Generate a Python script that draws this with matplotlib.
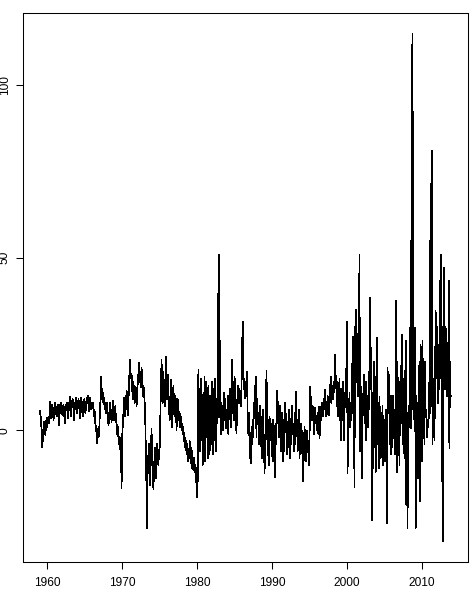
import numpy as np
import matplotlib
matplotlib.use("Agg")
import matplotlib.pyplot as plt


START_YEAR = 1959

# monthly values, one row per year
vals_1959_1968 = [
    5.5, 4.5, 3.0, -1.0, -5.0, -2.0, 1.0, 2.5, 0.5, -1.5, 2.0, 3.5,
    1.0, 3.0, 4.0, 2.0, 8.3, 6.0, 3.5, 5.5, 7.5, 6.0, 3.0, 5.0,
    7.0, 8.0, 5.5, 4.0, 6.5, 7.5, 5.0, 1.5, 5.5, 7.5, 8.0, 6.0,
    4.5, 6.5, 7.5, 5.0, 2.0, 5.5, 7.0, 8.0, 6.0, 3.5, 5.5, 7.0,
    9.8, 7.0, 4.0, 6.5, 8.5, 9.0, 6.0, 3.0, 6.5, 8.0, 9.5, 7.5,
    5.0, 7.0, 9.0, 8.0, 3.5, 6.0, 9.5, 8.5, 5.5, 4.0, 7.5, 9.0,
    8.0, 5.0, 6.5, 9.5, 8.0, 10.0, 7.0, 5.5, 8.5, 9.5, 6.0, 8.0,
    6.5, 8.0, 7.0, 4.0, 5.5, 2.0, 1.0, -1.5, -3.7, 0.5, -2.0, -1.0,
    4.0, 8.0, 15.6, 12.0, 9.0, 11.0, 7.5, 9.5, 6.0, 8.0, 5.0, 7.0,
    8.0, 4.0, 1.5, 3.0, 6.5, 8.0, 4.0, 2.5, 5.5, 8.5, 6.0, 3.0,
]
vals_1969_1978 = [
    4.5, 7.0, 3.0, 2.0, -1.0, 1.0, -2.5, -4.0, -2.0, -5.5, -4.5, -16.8,
    -2.0, 2.0, 5.0, 9.5, 6.0, 4.0, 8.0, 11.5, 10.0, 4.5, 9.0, 12.0,
    20.4, 18.0, 15.0, 16.5, 12.0, 9.0, 14.0, 11.0, 8.0, 12.5, 9.5, 7.0,
    11.0, 16.0, 13.5, 19.5, 17.0, 14.0, 12.5, 18.0, 15.0, 10.0, 13.0, 11.0,
    8.0, 3.0, -14.5, -3.0, -28.5, -8.0, -12.0, -4.0, -16.0, -10.0, -6.0, 0.5,
    -9.0, -13.0, -17.0, -11.0, -7.0, -5.0, -14.0, -8.0, -4.0, -9.0, -10.0, -6.0,
    -5.0, 3.0, 12.0, 20.4, 14.0, 8.0, 17.0, 11.0, 13.5, 7.0, 21.4, 15.0,
    9.0, 16.0, 12.0, 6.5, 3.0, 8.0, 14.5, 11.0, 1.0, 5.5, 13.0, 7.5,
    4.0, 10.0, 8.5, 0.0, 5.0, 9.0, 7.0, 3.0, 5.0, 1.0, 4.0, 0.0,
    2.0, -1.0, 1.0, -3.0, -2.0, -5.0, -3.0, -7.0, -4.0, -9.0, -6.0, -8.0,
]
vals_1979_1988 = [
    -3.0, -7.0, -5.0, -11.0, -6.0, -9.0, -11.6, -8.0, -12.0, -10.0, -15.0, -11.0,
    -19.5, -14.0, 17.5, 2.0, 12.0, -6.0, 15.0, -3.0, 9.0, -10.0, 11.0, -5.0,
    15.6, -9.0, 14.0, -2.0, 8.0, -8.0, 13.0, 1.0, -7.0, 10.0, -4.0, 6.0,
    14.0, -7.0, 12.0, -3.0, 7.0, 15.0, -6.0, 9.0, 2.0, 4.0, 40.0, 51.0,
    27.0, 5.0, -1.0, 8.0, 1.0, 7.0, 0.0, 11.0, 3.0, 9.0, 0.5, 6.0,
    2.0, 10.0, -1.0, 7.0, 4.0, 12.0, 1.0, 9.0, 20.4, 5.0, 14.0, 3.0,
    15.6, 11.0, 4.0, -0.8, 6.0, 13.0, 10.0, 8.0, 12.0, 9.0, 7.0, 10.5,
    23.3, 31.6, 17.0, 12.0, 15.0, 9.4, 14.0, 10.0, 17.0, 3.0, -1.0, 5.0,
    -5.0, -7.7, -9.6, 1.0, -4.0, 3.0, -2.0, 8.0, 4.0, 12.0, 15.6, -2.0,
    9.0, 5.0, 2.0, -4.0, -1.0, 7.0, 3.0, -6.0, -8.0, 6.0, 1.0, -3.0,
]
vals_1989_1998 = [
    -12.4, -5.0, -2.0, 17.2, 8.0, 3.0, -7.0, -10.0, 4.0, 1.0, -3.0, 2.0,
    -6.0, -9.0, 3.0, 0.0, -11.0, -13.5, 2.0, -4.0, 11.4, 8.0, 5.0, -2.0,
    3.0, 7.0, -6.0, -2.0, 5.0, 1.0, -9.0, -4.0, 6.0, 8.0, 4.0, -1.0,
    -7.0, -5.0, 2.0, 6.0, 3.0, -8.0, -3.0, 4.0, 7.0, -1.0, 2.0, -6.0,
    5.0, -4.0, 11.2, 1.0, 3.0, -6.0, -2.0, 6.0, -8.0, -4.0, 0.0, 2.0,
    -3.0, -10.0, -14.8, -5.0, 1.0, -2.0, -8.0, -9.0, 0.0, -3.0, -6.0, -10.0,
    -4.0, 12.6, 9.0, 6.0, 3.0, 7.0, 5.0, -1.0, 1.0, 6.5, 4.0, 2.0,
    0.0, 5.0, -1.0, 6.9, -2.3, 1.0, 3.0, 7.0, 8.0, 4.0, 5.0, 9.0,
    6.0, 11.7, 8.0, 4.0, 5.5, 10.0, 9.0, 4.5, 7.0, 12.0, 15.6, 8.0,
    10.0, 13.0, 9.0, 14.0, 11.0, 21.9, 15.0, 12.0, 7.0, 14.0, 4.0, 10.0,
]
vals_1999_2008 = [
    15.0, 3.0, 12.0, -3.0, 9.0, 6.0, 14.0, -2.8, 5.0, 11.0, 8.0, 18.0,
    31.6, -12.4, 8.0, 2.0, 11.0, 1.0, 6.0, 3.0, 19.3, 5.0, 27.2, 12.0,
    -16.4, 30.0, 26.0, 35.0, 14.0, 28.0, 10.0, 20.0, 51.0, -6.0, 12.6, 3.0,
    -14.0, 5.0, 9.0, 16.0, 2.0, 12.0, -3.0, 14.0, 4.0, 10.0, 1.0, 17.0,
    6.0, 38.4, 12.0, 24.0, -26.1, -14.0, 8.0, 20.0, -5.0, 2.0, -12.0, 15.0,
    26.7, -4.0, 8.0, -11.0, 9.7, 2.0, -8.0, 5.0, -2.0, 7.0, -10.0, 3.0,
    0.7, -9.0, 6.0, -3.0, -27.0, 18.0, 12.0, 5.0, 16.0, -4.0, 10.0, -7.0,
    8.0, -5.0, 10.0, -2.0, 6.0, -7.0, 4.0, 37.5, -12.0, 20.0, -6.0, 14.0,
    -10.0, 12.0, 2.0, 18.0, 27.8, -4.0, 15.0, 5.0, -8.0, 10.0, 26.0, -21.6,
    5.0, -28.4, 3.0, 7.0, 1.0, 4.0, 54.9, 0.7, 104.4, 115.0, 6.0, 15.0,
]
vals_2009_2013 = [
    2.0, 29.7, -28.4, 10.0, -6.0, 8.0, -14.0, 5.0, 20.0, -20.5, 24.8, 3.0,
    -9.0, 26.0, 2.0, 18.0, -4.0, 20.0, 6.0, 4.5, -2.0, 3.0, 1.0, 4.0,
    14.5, 55.0, 5.0, 70.0, 81.0, -4.0, 10.0, 15.0, -3.0, 12.0, 34.7, 20.0,
    15.0, 30.0, 8.0, 24.8, 12.0, 43.4, 15.0, 51.0, -14.7, 30.0, -32.2, 47.2,
    28.0, 12.0, 30.0, 19.0, 10.0, 25.0, 15.0, 43.4, -5.1, 20.0, 10.0, 10.0,
]

x_ticks = [1960, 1970, 1980, 1990, 2000, 2010]
y_ticks = [0, 50, 100]

values = np.array(vals_1959_1968 + vals_1969_1978 + vals_1979_1988
                  + vals_1989_1998 + vals_1999_2008 + vals_2009_2013)
t = START_YEAR + np.arange(len(values)) / 12.0

plt.rcParams["font.family"] = ["Liberation Sans", "DejaVu Sans"]

fig = plt.figure(figsize=(4.77, 5.92), dpi=100)
ax = fig.add_axes([0.0489, 0.0512, 0.9316, 0.9263])
ax.plot(t, values, color="black", linewidth=0.5, antialiased=False)

# R style 4% padding on both axes
xpad = (t.max() - t.min()) * 0.04
ypad = (values.max() - values.min()) * 0.04
ax.set_xlim(t.min() - xpad, t.max() + xpad)
ax.set_ylim(values.min() - ypad, values.max() + ypad)

ax.set_xticks(x_ticks)
ax.set_yticks(y_ticks)
ax.set_xticklabels([str(v) for v in x_ticks])
ax.set_yticklabels([str(v) for v in y_ticks], rotation=90, va="center")
ax.tick_params(length=5, width=0.75, labelsize=8.6, color="black")
ax.tick_params(axis="x", pad=6)
ax.tick_params(axis="y", pad=4)
for s in ax.spines.values():
    s.set_linewidth(0.75)

fig.savefig("out.png", dpi=100)
